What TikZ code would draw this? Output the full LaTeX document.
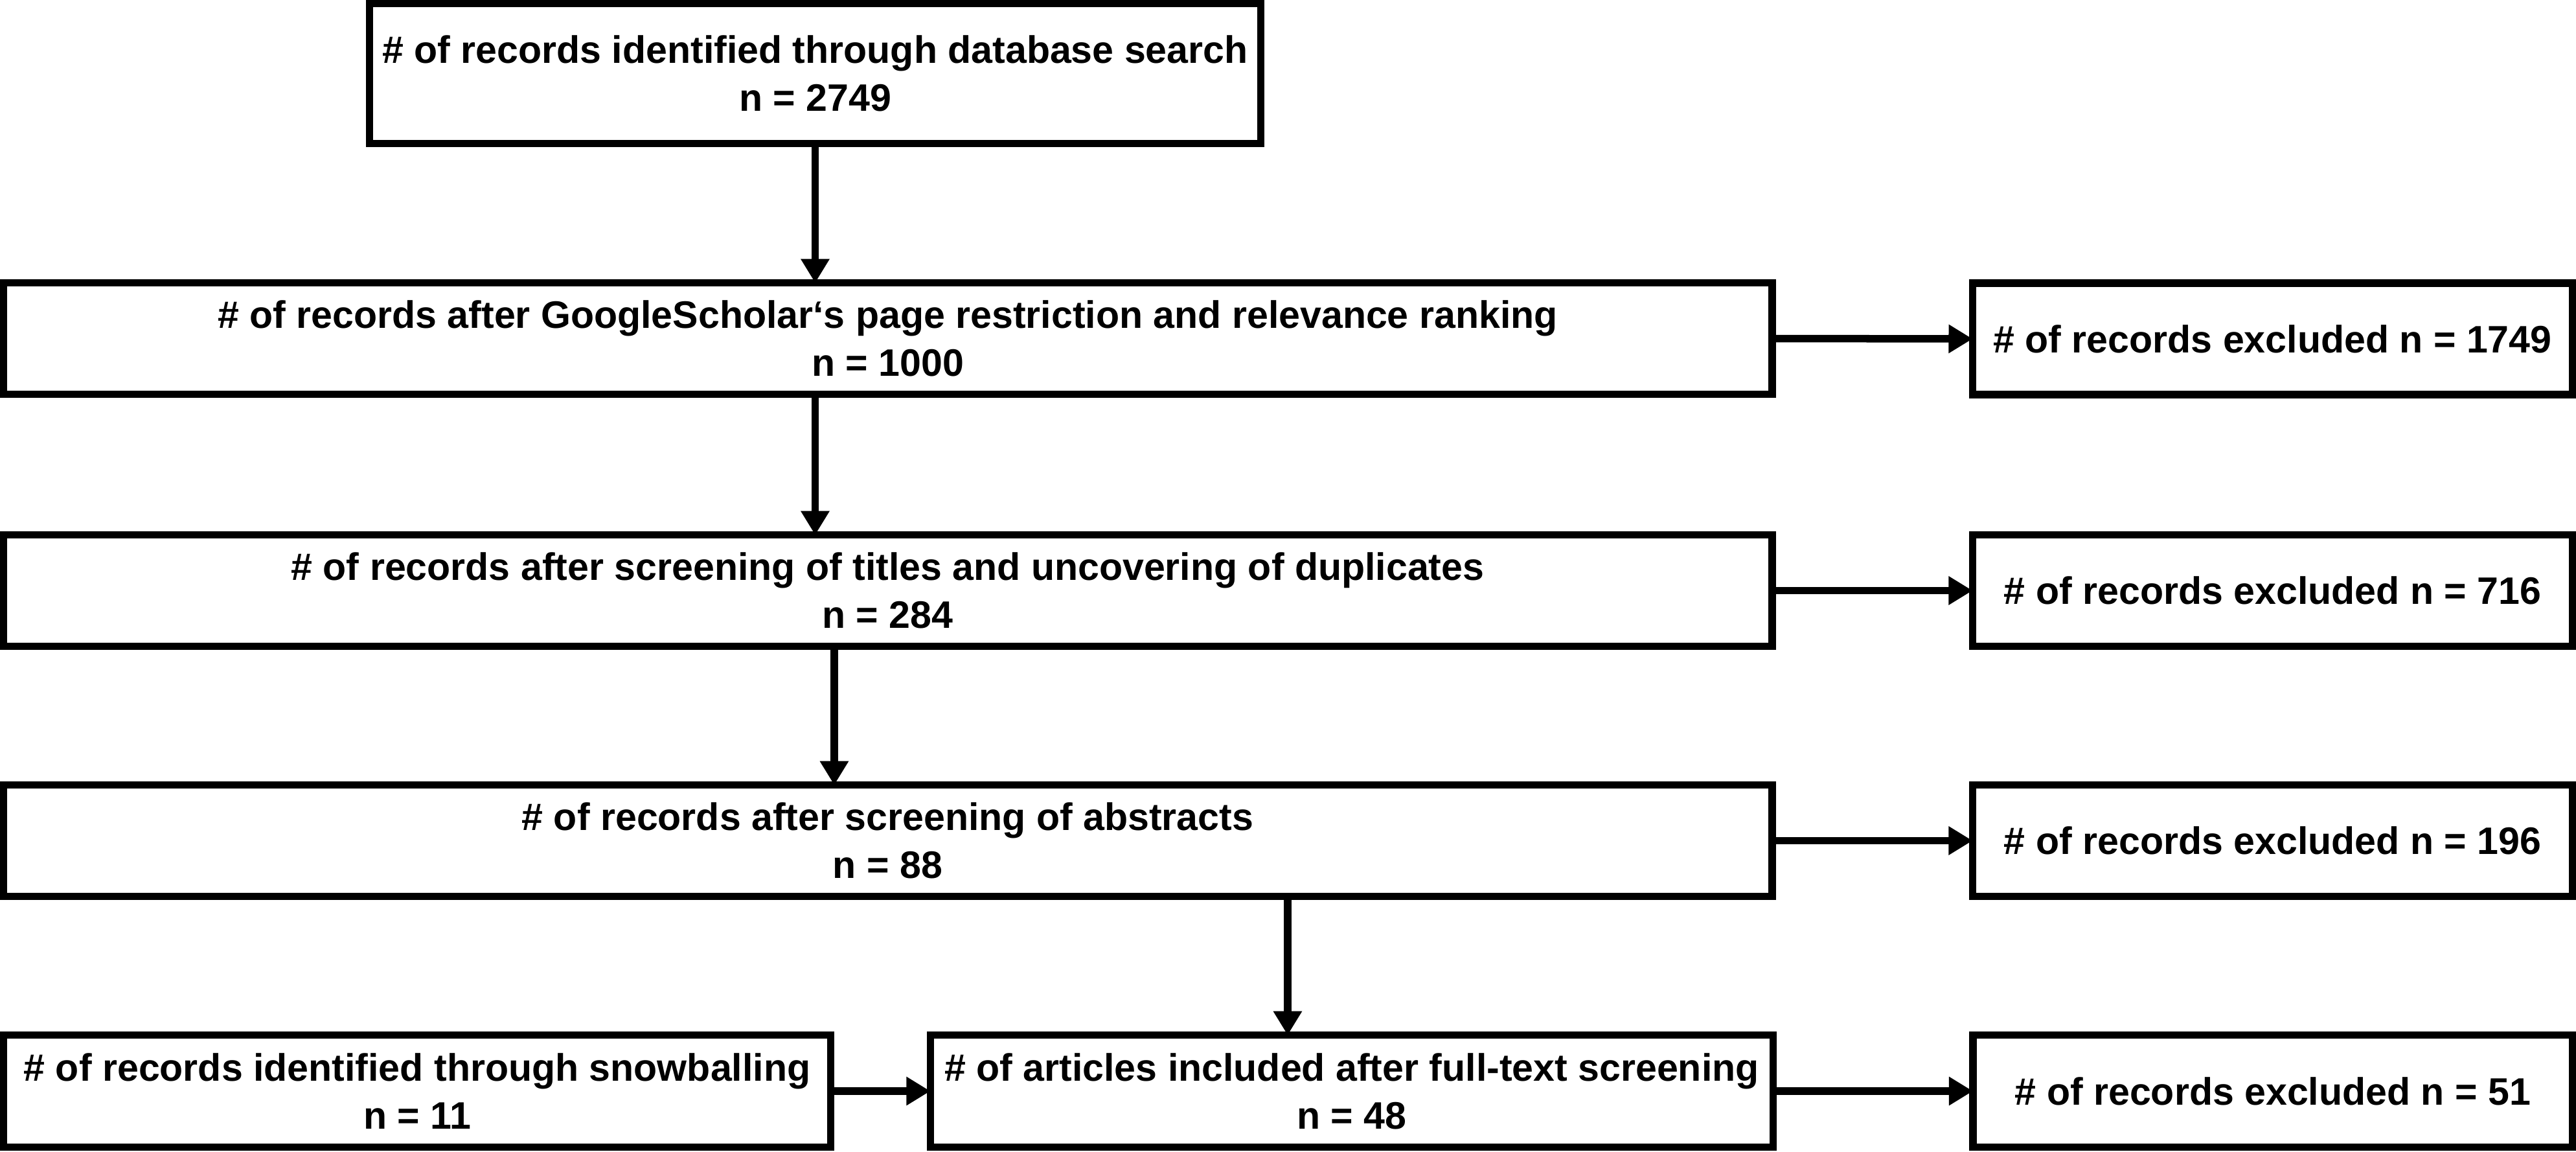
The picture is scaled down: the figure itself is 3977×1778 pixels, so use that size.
\documentclass[tikz,border=0pt]{standalone}
\usepackage{fontspec}
\setmainfont{Liberation Sans}
\usetikzlibrary{arrows.meta}
\begin{document}
\begin{tikzpicture}[x=0.01cm,y=-0.01cm,
  box/.style={draw=black, line width=0.115cm, fill=white, rectangle, inner sep=0pt,
    align=center, font=\fontsize{16.8}{21}\selectfont\bfseries},
  widebox/.style={box, minimum width=27.295cm, minimum height=1.715cm},
  exclbox/.style={box, minimum width=9.255cm, minimum height=1.715cm},
  arr/.style={line width=0.115cm, -{Triangle[length=3.7mm,width=4.2mm]}, shorten >=-0.0575cm}
]
\useasboundingbox (0,0) rectangle (3977,1778);

\node[box, minimum width=13.755cm, minimum height=2.155cm] (T) at (1258.5,113.5)
  {\# of records identified through database search\\n = 2749};

\node[widebox] (B2) at (1370.5,522.5)
  {\# of records after GoogleScholar‘s page restriction and relevance ranking\\n = 1000};
\node[exclbox] (E1) at (3508.5,523) {\# of records excluded n = 1749};

\node[widebox] (B3) at (1370.5,911.5)
  {\# of records after screening of titles and uncovering of duplicates\\n = 284};
\node[exclbox] (E2) at (3508.5,911.5) {\# of records excluded n = 716};

\node[widebox] (B4) at (1370.5,1297.5)
  {\# of records after screening of abstracts\\n = 88};
\node[exclbox] (E3) at (3508.5,1297.5) {\# of records excluded n = 196};

\node[box, minimum width=12.765cm, minimum height=1.725cm] (S) at (644,1684)
  {\# of records identified through snowballing\\n = 11};
\node[box, minimum width=13.005cm, minimum height=1.725cm] (F) at (2087,1684)
  {\# of articles included after full-text screening\\n = 48};
\node[exclbox, minimum height=1.725cm] (E4) at (3509,1684) {\# of records excluded n = 51};

\draw[arr] (T.south) -- (T.south |- B2.north);
\draw[arr] (B2.south -| T.south) -- (B3.north -| T.south);
\draw[arr] ([xshift=-0.825cm]B3.south) -- ([xshift=-0.825cm]B4.north);
\draw[arr] ([xshift=-0.99cm]F.north |- B4.south) -- ([xshift=-0.99cm]F.north);

\draw[arr] (B2.east) -- (E1.west);
\draw[arr] (B3.east) -- (E2.west);
\draw[arr] (B4.east) -- (E3.west);
\draw[arr] (S.east) -- (F.west);
\draw[arr] (F.east) -- (E4.west);
\end{tikzpicture}
\end{document}
